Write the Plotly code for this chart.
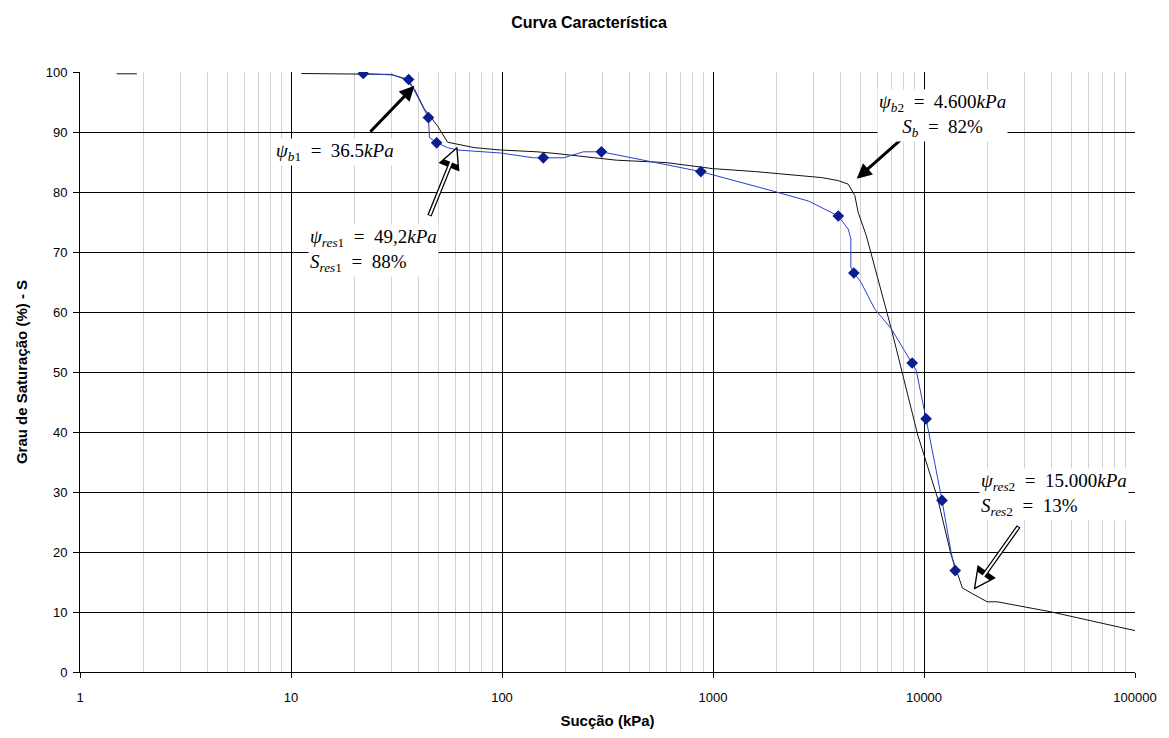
import math
import plotly.graph_objects as go

# ---- data ----
# measured points (blue diamonds)
meas_x = [22.0, 36.1, 44.8, 49.0, 157, 296, 876, 3925, 4652, 8790, 10230, 12170, 14060]
meas_y = [99.75, 98.75, 92.4, 88.2, 85.7, 86.7, 83.4, 76.0, 66.5, 51.5, 42.2, 28.6, 16.9]

# blue connecting line
blue_x = [22.0, 30.5, 36.1, 44.8, 45.3, 49.0, 55.2, 61.5, 98.4, 141, 157, 195.6, 243, 296,
          876, 1280, 1905, 2833, 3925, 4375, 4500, 4500, 4652, 5020, 5840, 7000, 8790, 9180,
          10230, 12170, 13420, 14060]
blue_y = [99.75, 99.5, 98.75, 92.4, 89.1, 88.2, 87.4, 87.0, 86.5, 85.7, 85.7, 85.7, 86.7, 86.7,
          83.4, 81.9, 80.2, 78.5, 76.0, 73.8, 72.2, 67.5, 66.5, 65.0, 60.5, 57.2, 51.5, 50.3,
          42.2, 28.6, 20.1, 16.9]

# black fitted curve (None = gap where it runs along the top border)
fit_x = [1.49, 1.86, None, 11.2, 29.9, 35.1, 38.5, 42.9, 49.5, 55.2, 61.5, 73.8, 98.4, 146.5,
         182, 296, 349, 600, 994, 1590, 3275, 3925, 4375, 4700, 4875, 5330, 7000, 9340, 11590,
         13420, 15210, 17260, 19940, 22250, 28640, 39640, 100000]
fit_y = [99.7, 99.7, None, 99.75, 99.6, 98.75, 97.1, 93.8, 91.0, 88.3, 88.0, 87.4, 87.0, 86.7,
         86.4, 85.6, 85.3, 84.9, 83.9, 83.4, 82.4, 81.9, 81.3, 79.4, 76.6, 72.7, 57.2, 39.5, 29.0,
         19.6, 14.0, 12.9, 11.7, 11.7, 11.0, 10.05, 6.9]

x_tick_vals = [1, 10, 100, 1000, 10000, 100000]
x_tick_text = ["1", "10", "100", "1000", "10000", "100000"]
y_tick_vals = list(range(0, 101, 10))

minor_vals = [m * d for d in [1, 10, 100, 1000, 10000] for m in range(2, 10)]

fig = go.Figure()
fig.add_trace(go.Scatter(x=fit_x, y=fit_y, mode="lines",
                         line=dict(color="#111111", width=1), connectgaps=False,
                         showlegend=False, hoverinfo="skip"))
fig.add_trace(go.Scatter(x=blue_x, y=blue_y, mode="lines",
                         line=dict(color="#2b3fd0", width=1),
                         showlegend=False, hoverinfo="skip"))
fig.add_trace(go.Scatter(x=meas_x, y=meas_y, mode="markers",
                         marker=dict(symbol="diamond", size=9, color="#0a1f8f"),
                         showlegend=False))

L = math.log10
MATH = dict(family="Liberation Serif, Times New Roman, serif", size=19, color="black")
EQ = "\u2002=\u2002"

annots = []
# arrows (head x,y ; tail ax,ay) in data coords
def arrow(hx, hy, tx, ty, hollow=False):
    if hollow:
        annots.append(dict(x=L(hx), y=hy, ax=L(tx), ay=ty, xref="x", yref="y", axref="x", ayref="y",
                           text="", showarrow=True, arrowhead=2, arrowsize=1.0, arrowwidth=4.5,
                           arrowcolor="black"))
        annots.append(dict(x=L(hx), y=hy, ax=L(tx), ay=ty, xref="x", yref="y", axref="x", ayref="y",
                           text="", showarrow=True, arrowhead=2, arrowsize=1.4, arrowwidth=2,
                           arrowcolor="white", standoff=3, startstandoff=1))
    else:
        annots.append(dict(x=L(hx), y=hy, ax=L(tx), ay=ty, xref="x", yref="y", axref="x", ayref="y",
                           text="", showarrow=True, arrowhead=2, arrowsize=1.0, arrowwidth=3,
                           arrowcolor="black"))

arrow(38.5, 97.7, 23.4, 89.8)
arrow(61.5, 87.6, 45.0, 75.8, hollow=True)
arrow(4800, 82.2, 8000, 89.1)
arrow(17200, 13.7, 28400, 24.5, hollow=True)

def label(x, y, text, align, xanchor):
    annots.append(dict(x=L(x), y=y, xref="x", yref="y", text=text, showarrow=False,
                       font=MATH, bgcolor="white", align=align, borderpad=1,
                       xanchor=xanchor, yanchor="middle"))

label(8.3, 86.6, "<i>ψ</i><sub><i>b</i>1</sub>" + EQ + "36.5<i>kPa</i>", "left", "left")
label(12.1, 70.3, "<i>ψ</i><sub><i>res</i>1</sub>" + EQ + "49,2<i>kPa</i><br>"
      "<i>S</i><sub><i>res</i>1</sub>" + EQ + "88%", "left", "left")
label(12300, 92.8, "<i>ψ</i><sub><i>b</i>2</sub>" + EQ + "4.600<i>kPa</i><br>"
      "<i>S</i><sub><i>b</i></sub>" + EQ + "82%", "center", "center")
label(18300, 29.6, "<i>ψ</i><sub><i>res</i>2</sub>" + EQ + "15.000<i>kPa</i><br>"
      "<i>S</i><sub><i>res</i>2</sub>" + EQ + "13%", "left", "left")

fig.update_layout(
    width=1169, height=738,
    margin=dict(l=80, r=27, t=72, b=64),
    paper_bgcolor="white", plot_bgcolor="white",
    font=dict(family="Liberation Sans, Arial, sans-serif", size=13, color="black"),
    title=dict(text="<b>Curva Característica</b>", x=589 / 1169, xref="container", xanchor="center",
               y=1 - 22 / 738, yref="container", yanchor="middle",
               font=dict(size=16)),
    annotations=annots,
)

fig.update_xaxes(type="log", range=[0, 5], tickvals=x_tick_vals, ticktext=x_tick_text,
                 showgrid=True, gridcolor="black", gridwidth=1,
                 showline=True, linecolor="black", linewidth=1,
                 ticks="outside", ticklen=5, tickcolor="black", ticklabelstandoff=8,
                 minor=dict(tickvals=minor_vals, showgrid=True, gridcolor="#d2d2d2", gridwidth=1,
                            ticks=""),
                 zeroline=False,
                 title=dict(text="<b>Sucção (kPa)</b>", standoff=11, font=dict(size=15)))
fig.update_yaxes(range=[0, 100], tickvals=y_tick_vals,
                 showgrid=True, gridcolor="black", gridwidth=1,
                 showline=True, linecolor="black", linewidth=1,
                 ticks="outside", ticklen=6, tickcolor="black", ticklabelstandoff=3,
                 zeroline=False,
                 title=dict(text="<b>Grau de Saturação (%) - S</b>", standoff=14, font=dict(size=15)))

fig.write_html("out.html")
